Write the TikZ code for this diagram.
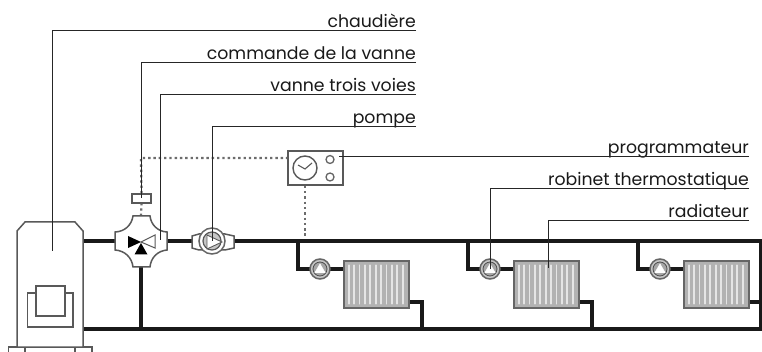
\documentclass[tikz,border=0pt]{standalone}
\usepackage{fontspec}
\setmainfont{Poppins}
\usetikzlibrary{calc}
\definecolor{appareil}{gray}{0.35}
\tikzset{
  pipe/.style={line width=4.8pt,black!90},
  leader/.style={line width=1pt,black!85},
  ctrl/.style={line width=2.3pt,gray!85!black,dash pattern=on 2.4pt off 2.9pt},
  equip/.style={line width=1.5pt,draw=appareil,fill=white},
  label/.style={inner sep=0pt,font=\fontsize{17.3}{19}\selectfont,text=black!90},
  trou/.style={line width=1.7pt,gray!20,line cap=round},
}
\begin{document}
\begin{tikzpicture}[x=1pt,y=-1pt]
  \useasboundingbox (0,0) rectangle (762,352);
  % points du circuit
  \coordinate (chaudhaut) at (83,241);
  \coordinate (chaudbas) at (83,329);
  \coordinate (vanne) at (141,241);
  \coordinate (pompe) at (212,241);
  \coordinate (pile) at (761,241);
  \coordinate (retour) at (761,329);
  \coordinate (piedvanne) at (141,329);
  % tuyaux
  \draw[pipe] (chaudhaut) -- (pile) -- (retour) -- (chaudbas);
  \draw[pipe] (vanne) -- (piedvanne);
  \foreach \dx/\nom in {0/a,170/b,340/c}{
    \coordinate (dep\nom) at (298+\dx,241);
    \coordinate (rob\nom) at (320+\dx,269);
    \draw[pipe,line join=miter] (dep\nom) |- (rob\nom) -- ++(30,0);
  }
  \draw[pipe] (405,302) -- (422,302) -- (422,329);
  \draw[pipe] (575,302) -- (592,302) -- (592,329);
  \draw[pipe] (745,302) -- (pile |- 0,302);
  % radiateurs et robinets
  \foreach \dx/\nom in {0/a,170/b,340/c}{
    \node[equip,draw=gray!80!black,fill=gray!60,minimum width=65pt,minimum height=47pt,inner sep=0pt] (rad\nom) at (376.5+\dx,284.5) {};
    \foreach \i in {1,...,11}
      \draw[trou] ($(rad\nom.north west)+(5.4*\i,5)$) -- ($(rad\nom.south west)+(5.4*\i,-5)$);
    \node[circle,equip,draw=gray!80!black,fill=gray!45,minimum size=20pt,inner sep=0pt] (cercle\nom) at (rob\nom) {};
    \node[circle,draw=black!70,line width=0.8pt,fill=gray!70,minimum size=14pt,inner sep=0pt] at (rob\nom) {};
    \draw[white,fill=white,line width=0.6pt] ($(rob\nom)+(-5,3.5)$) -- ($(rob\nom)+(5,3.5)$) -- ($(rob\nom)+(0,-5)$) -- cycle;
  }
  % chaudiere
  \draw[equip] (8.5,347) rectangle (92,356);
  \draw[equip] (25,347) -- (25,356) (75,347) -- (75,356);
  \draw[equip] (17,347) -- (17,231) -- (25,222) -- (75,222) -- (83,231) -- (83,347) -- cycle;
  \draw[equip] (27.5,293) rectangle (73,327);
  \draw[equip] (36,286) rectangle (65,316);
  % commande
  \node[draw=appareil,fill=white,line width=1.5pt,minimum width=19pt,minimum height=9pt,inner sep=0pt] (cmd) at (141.5,198.5) {};
  \node[equip,minimum width=55pt,minimum height=34pt,inner sep=0pt] (prog) at (315.5,168) {};
  \coordinate (horloge) at (305,168);
  \draw[ctrl] (vanne |- 0,216) -- (cmd.south);
  \draw[ctrl] (cmd.north) -- (141,158) -- (prog.west |- 0,158);
  \draw[ctrl] (horloge |- prog.south) -- (305,238);
  % programmateur
  \draw[line width=1.4pt,appareil] (horloge) circle (12);
  \draw[line width=1.1pt,appareil] (298,165) -- (305,169) -- (312,163);
  \draw[line width=1.3pt,gray!80!black] (330,159.5) circle (4) (330,177) circle (4);
  % vanne trois voies
  \draw[equip] (133,216) -- (150,216) to[bend right=40] (167,232) -- (167,250)
    to[bend right=40] (150,267) -- (133,267) to[bend right=40] (115,250) -- (115,232)
    to[bend right=40] (133,216) -- cycle;
  \fill[black] (128,236) -- (141,242) -- (128,248) -- cycle;
  \draw[line width=1pt,appareil] (155,235) -- (141,242) -- (155,248) -- cycle;
  \fill[black] (141,243) -- (147.5,254.5) -- (134.5,254.5) -- cycle;
  % pompe
  \draw[equip] (192,236) -- (199,234) -- (225,234) -- (234,236) -- (234,248) -- (225,250) -- (199,250) -- (192,248) -- cycle;
  \draw[equip,draw=gray!80!black] (pompe) circle (13);
  \draw[line width=1.2pt,appareil,fill=gray!45] (pompe) circle (9);
  \draw[line width=0.9pt,appareil,fill=white] (207,235) -- (222,242) -- (207,249) -- cycle;
  % etiquettes
  \node[label,anchor=base east] (lchaudiere) at (416,28) {chaudière};
  \node[label,anchor=base east] (lcommande) at (416,60) {commande de la vanne};
  \node[label,anchor=base east] (lvanne) at (416,92) {vanne trois voies};
  \node[label,anchor=base east] (lpompe) at (416,124) {pompe};
  \node[label,anchor=base east] (lprog) at (749,154) {programmateur};
  \node[label,anchor=base east] (lrob) at (749,186) {robinet thermostatique};
  \node[label,anchor=base east] (lrad) at (749,218) {radiateur};
  \draw[leader] (lchaudiere.base east) ++(0,3) -| (52,251);
  \draw[leader] (lcommande.base east) ++(0,3) -| (cmd.center);
  \draw[leader] (lvanne.base east) ++(0,3) -| (160,240);
  \draw[leader] (lpompe.base east) ++(0,3) -| (pompe);
  \draw[leader] (lprog.base east) ++(0,3) -- (339,157);
  \draw[leader] (lrob.base east) ++(0,3) -| (robb);
  \draw[leader] (lrad.base east) ++(0,3) -| (548,268);
\end{tikzpicture}
\end{document}
